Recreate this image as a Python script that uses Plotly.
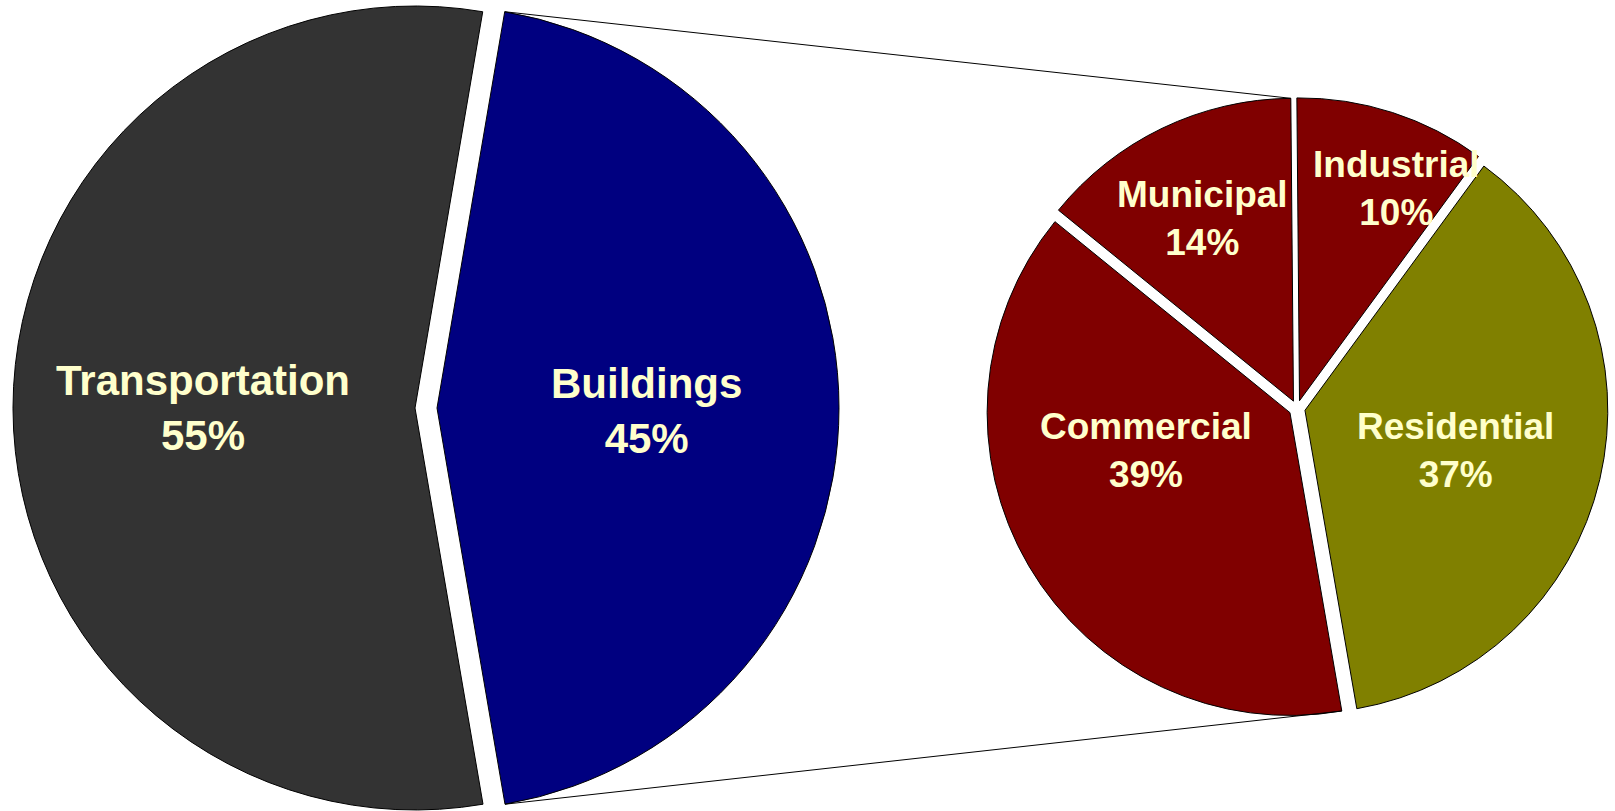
import math
import plotly.graph_objects as go

# ---------------- data ----------------
left_labels = ["Buildings", "Transportation"]
left_values = [44.6, 55.4]
left_colors = ["#000080", "#333333"]

right_labels = ["Industrial", "Residential", "Commercial", "Municipal"]
right_values = [10.2, 37.2, 38.6, 14.0]
right_colors = ["#800000", "#808000", "#800000", "#800000"]

# ---------------- style / layout ----------------
W, H = 1615, 811
TEXT_COLOR = "#FFFFCC"
FONT = "Arial, 'Liberation Sans', sans-serif"

L_R = 402                      # left pie radius (px)
L_CY = 408                     # left pie centre y (px from top)
L_CX = [437, 415]              # centre x of each (exploded) left slice
L_ROT = 9.7                    # start angle, clockwise from 12 o'clock
L_FONT = 42
# label placement: (fraction of radius, angle clockwise from 12 o'clock)
L_LABEL_POS = [(0.52, 90.8), (0.527, 270)]

R_DOMAIN_X = (986, 1608)       # px
R_DOMAIN_Y = (0.0463, 0.9463)
R_ROT = -0.5
R_PULL = 0.027
R_FONT = 37
R_LABEL_POS = [(0.77, 24.5), (0.516, 105), (0.493, 255.3), (0.675, 333.6)]

fig = go.Figure()


def pt(cx, cy, r, ang):
    a = math.radians(ang)
    return cx + r * math.sin(a), cy - r * math.cos(a)


def to_paper(p):
    return p[0] / W, 1 - p[1] / H


def add_label(p, label, value, total, size):
    x, y = to_paper(p)
    fig.add_annotation(
        x=x, y=y, xref="paper", yref="paper",
        xanchor="center", yanchor="middle", showarrow=False,
        text=f"{label}<br>{round(100 * value / total)}%",
        font=dict(family=FONT, size=size, color=TEXT_COLOR, weight="bold"),
    )


# Left pie: one trace per slice so each slice can be offset without shrinking
n = len(left_values)
for i, cx in enumerate(L_CX):
    fig.add_trace(go.Pie(
        labels=left_labels,
        values=left_values,
        sort=False,
        direction="clockwise",
        rotation=L_ROT,
        marker=dict(
            colors=[left_colors[j] if j == i else "rgba(0,0,0,0)" for j in range(n)],
            line=dict(color="black", width=[1 if j == i else 0 for j in range(n)]),
        ),
        textinfo="none",
        hoverinfo="skip",
        showlegend=False,
        domain=dict(
            x=[(cx - L_R) / W, (cx + L_R) / W],
            y=[1 - (L_CY + L_R) / H, 1 - (L_CY - L_R) / H],
        ),
    ))

# Right pie
fig.add_trace(go.Pie(
    labels=right_labels,
    values=right_values,
    sort=False,
    direction="clockwise",
    rotation=R_ROT,
    pull=[R_PULL] * len(right_values),
    marker=dict(colors=right_colors, line=dict(color="black", width=1)),
    textinfo="none",
    hoverinfo="skip",
    showlegend=False,
    domain=dict(x=[R_DOMAIN_X[0] / W, R_DOMAIN_X[1] / W], y=list(R_DOMAIN_Y)),
))

# ---------------- geometry for labels and connector lines ----------------
ltot = sum(left_values)
for i, cx in enumerate(L_CX):
    f, ang = L_LABEL_POS[i]
    add_label(pt(cx, L_CY, f * L_R, ang), left_labels[i], left_values[i], ltot, L_FONT)

b_start = L_ROT
b_end = L_ROT + 360 * left_values[0] / ltot
b_top = pt(L_CX[0], L_CY, L_R, b_start)
b_bot = pt(L_CX[0], L_CY, L_R, b_end)

r_r = (R_DOMAIN_X[1] - R_DOMAIN_X[0]) / (2 + 2 * R_PULL)
r_cx = (R_DOMAIN_X[0] + R_DOMAIN_X[1]) / 2
r_cy = H * (1 - (R_DOMAIN_Y[0] + R_DOMAIN_Y[1]) / 2)
rtot = sum(right_values)
starts = []
acc = 0
for v in right_values:
    starts.append(R_ROT + 360 * acc / rtot)
    acc += v
ends = [s + 360 * v / rtot for s, v in zip(starts, right_values)]


def apex(k):
    mid = (starts[k] + ends[k]) / 2
    return pt(r_cx, r_cy, R_PULL * r_r, mid)


for k in range(len(right_values)):
    ax, ay = apex(k)
    f, ang = R_LABEL_POS[k]
    add_label(pt(ax, ay, f * r_r, ang), right_labels[k], right_values[k], rtot, R_FONT)

# top: last slice (Municipal) end corner; bottom: Commercial start corner
ax, ay = apex(3)
r_top = pt(ax, ay, r_r, ends[3])
ax, ay = apex(2)
r_bot = pt(ax, ay, r_r, starts[2])

for a, b in [(b_top, r_top), (b_bot, r_bot)]:
    x0, y0 = to_paper(a)
    x1, y1 = to_paper(b)
    fig.add_shape(type="line", xref="paper", yref="paper",
                  x0=x0, y0=y0, x1=x1, y1=y1,
                  line=dict(color="black", width=1))

fig.update_layout(
    width=W, height=H,
    margin=dict(l=0, r=0, t=0, b=0),
    paper_bgcolor="white",
    plot_bgcolor="white",
    showlegend=False,
)

fig.write_html(
    "out.html",
    config={"displayModeBar": False},
    post_script="document.body.style.margin='0';document.body.style.overflow='hidden';",
)
